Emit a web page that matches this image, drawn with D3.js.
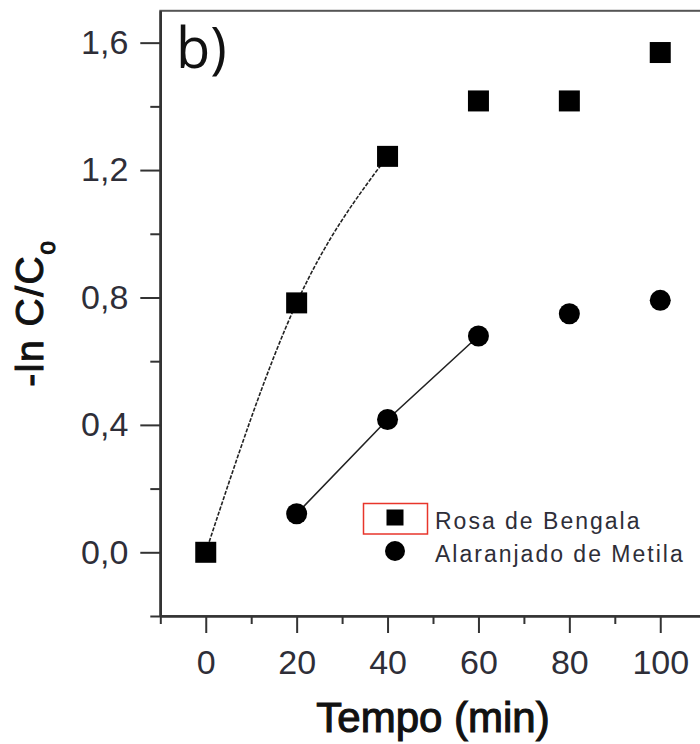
<!DOCTYPE html>
<html><head><meta charset="utf-8">
<script src="https://cdn.jsdelivr.net/npm/d3@7"></script>
<style>
html,body{margin:0;padding:0;background:#fff;}
svg{display:block;font-family:"Liberation Sans",Arial,sans-serif;}
</style></head>
<body>
<svg id="chart" width="700" height="744"></svg>
<script>
// ---- data ----
const time = [0, 20, 40, 60, 80, 100];
const rosaBengala = [0.0, 0.783, 1.243, 1.417, 1.417, 1.569];
const timeMetila = [20, 40, 60, 80, 100];
const alaranjadoMetila = [0.121, 0.417, 0.679, 0.749, 0.791];
const rosaFitCount = 3;      // curve through first 3 points
const metilaFitCount = 3;    // line through first 3 points
const seriesNames = ["Rosa de Bengala", "Alaranjado de Metila"];
const xMajorTicks = [0, 20, 40, 60, 80, 100];
const xMinorTicks = [-10, 10, 30, 50, 70, 90, 110];
const yMajorTicks = [0.0, 0.4, 0.8, 1.2, 1.6];
const yMinorTicks = [-0.2, 0.2, 0.6, 1.0, 1.4];
const yTickLabels = ["0,0", "0,4", "0,8", "1,2", "1,6"];
const xTitle = "Tempo (min)";
const panelLabel = "b)";

// ---- layout ----
const svg = d3.select("#chart");
const x = d3.scaleLinear().domain([-10, 110]).range([160.3, 705.7]);
const y = d3.scaleLinear().domain([-0.2, 1.7]).range([616, 10.8]);
const axisColor = "#333";
const textColor = "#2e2e38";

// frame (top border)
svg.append("rect")
  .attr("x", x(-10)).attr("y", y(1.7))
  .attr("width", x(110) - x(-10)).attr("height", y(-0.2) - y(1.7))
  .attr("fill", "none").attr("stroke", "#555").attr("stroke-width", 2);

// y axis
const yMajor = d3.axisLeft(y).tickValues(yMajorTicks)
  .tickFormat((d, i) => yTickLabels[i]).tickSizeInner(20).tickSizeOuter(0).tickPadding(12);
const yMinor = d3.axisLeft(y).tickValues(yMinorTicks).tickFormat("").tickSizeInner(10).tickSizeOuter(0);
const gy = svg.append("g").attr("transform", `translate(${x(-10)},0)`);
gy.call(yMinor);
gy.append("g").call(yMajor);
// x axis
const xMajor = d3.axisBottom(x).tickValues(xMajorTicks).tickSizeInner(17).tickSizeOuter(0).tickPadding(17);
const xMinor = d3.axisBottom(x).tickValues(xMinorTicks).tickFormat("").tickSizeInner(8).tickSizeOuter(0);
const gx = svg.append("g").attr("transform", `translate(0,${y(-0.2)})`);
gx.call(xMinor);
gx.append("g").call(xMajor);

svg.selectAll(".domain").attr("stroke", axisColor).attr("stroke-width", 2.2);
svg.selectAll(".tick line").attr("stroke", axisColor).attr("stroke-width", 2);
svg.selectAll(".tick text").attr("fill", textColor)
  .style("font-size", "34px").style("font-family", "'Liberation Sans',Arial,sans-serif");

// axis titles
svg.append("text").attr("x", 433).attr("y", 732).attr("text-anchor", "middle")
  .attr("fill", "#111").attr("stroke", "#111").attr("stroke-width", 1.1)
  .style("font-size", "42px").text(xTitle);

const yt = svg.append("text").attr("transform", "translate(43,313) rotate(-90)")
  .attr("text-anchor", "middle").attr("fill", "#111").attr("stroke", "#111").attr("stroke-width", 1)
  .style("font-size", "39px").style("letter-spacing", "1.5px");
yt.append("tspan").text("-ln C/C");
yt.append("tspan").attr("dy", 12).style("font-size", "25px").text("o");

// panel label
svg.append("text").attr("x", 176).attr("y", 68).attr("fill", "#111")
  .style("font-size", "56px").style("font-family", "'Open Sans','Liberation Sans',sans-serif").text(panelLabel);

// lines
const rosaPts = time.slice(0, rosaFitCount).map((t, i) => [t, rosaBengala[i]]);
const metPts = timeMetila.slice(0, metilaFitCount).map((t, i) => [t, alaranjadoMetila[i]]);
svg.append("path").datum(rosaPts)
  .attr("d", d3.line().x(d => x(d[0])).y(d => y(d[1])).curve(d3.curveNatural))
  .attr("fill", "none").attr("stroke", "#222").attr("stroke-width", 1.6).attr("stroke-dasharray", "4,1.5");
svg.append("path").datum(metPts)
  .attr("d", d3.line().x(d => x(d[0])).y(d => y(d[1])))
  .attr("fill", "none").attr("stroke", "#222").attr("stroke-width", 1.6);

// markers
const sq = 21;
svg.selectAll("rect.rb").data(time.map((t, i) => [t, rosaBengala[i]])).enter()
  .append("rect").attr("class", "rb")
  .attr("x", d => x(d[0]) - sq / 2).attr("y", d => y(d[1]) - sq / 2)
  .attr("width", sq).attr("height", sq).attr("fill", "#000");
svg.selectAll("circle.am").data(timeMetila.map((t, i) => [t, alaranjadoMetila[i]])).enter()
  .append("circle").attr("class", "am")
  .attr("cx", d => x(d[0])).attr("cy", d => y(d[1])).attr("r", 10.5).attr("fill", "#000");

// legend
const lg = svg.append("g");
lg.append("rect").attr("x", 363.5).attr("y", 503.5).attr("width", 64).attr("height", 30.5)
  .attr("fill", "none").attr("stroke", "#e8352b").attr("stroke-width", 1.5);
lg.append("rect").attr("x", 386.5).attr("y", 509.5).attr("width", 17).attr("height", 16).attr("fill", "#000");
lg.append("circle").attr("cx", 395).attr("cy", 551).attr("r", 10).attr("fill", "#000");
lg.selectAll("text").data(seriesNames).enter().append("text")
  .attr("x", 435).attr("y", (d, i) => 529 + i * 32.5)
  .attr("fill", textColor).style("font-size", "23px").style("letter-spacing", "2px")
  .text(d => d);
</script>
</body></html>
